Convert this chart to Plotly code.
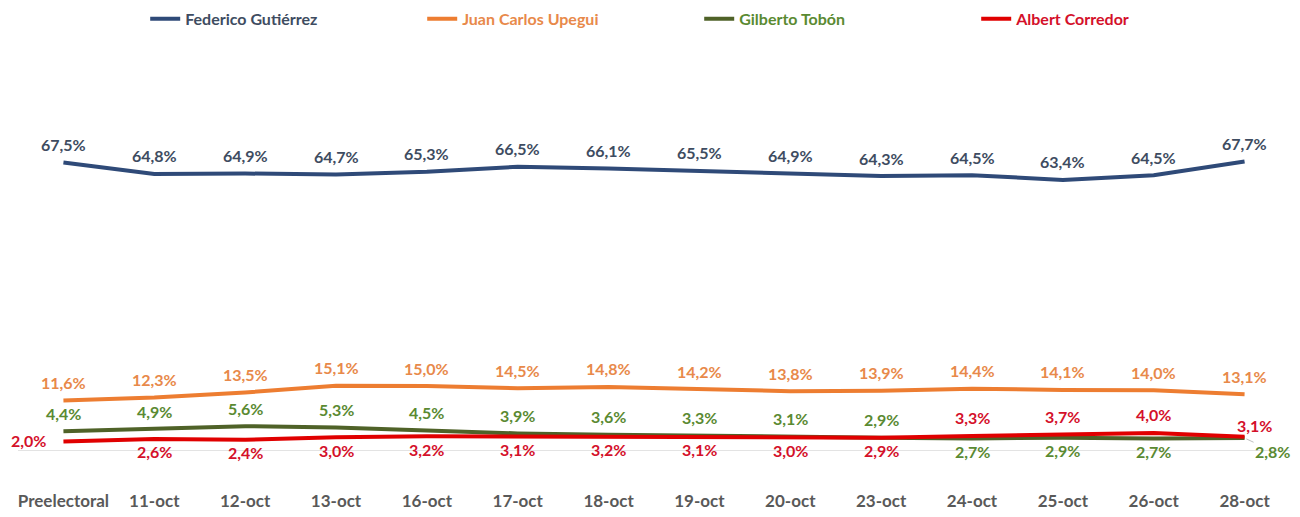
import plotly.graph_objects as go

fechas = ['Preelectoral', '11-oct', '12-oct', '13-oct', '16-oct', '17-oct', '18-oct',
          '19-oct', '20-oct', '23-oct', '24-oct', '25-oct', '26-oct', '28-oct']

federico = [67.5, 64.8, 64.9, 64.7, 65.3, 66.5, 66.1, 65.5, 64.9, 64.3, 64.5, 63.4, 64.5, 67.7]
juan = [11.6, 12.3, 13.5, 15.1, 15.0, 14.5, 14.8, 14.2, 13.8, 13.9, 14.4, 14.1, 14.0, 13.1]
gilberto = [4.4, 4.9, 5.6, 5.3, 4.5, 3.9, 3.6, 3.3, 3.1, 2.9, 2.7, 2.9, 2.7, 2.8]
albert = [2.0, 2.6, 2.4, 3.0, 3.2, 3.1, 3.2, 3.1, 3.0, 2.9, 3.3, 3.7, 4.0, 3.1]

# donde va cada etiqueta respecto a la linea
pos_federico = ['arriba'] * 14
pos_juan = ['arriba'] * 14
pos_gilberto = ['arriba'] * 10 + ['abajo'] * 3 + ['abajo_der']
pos_albert = ['izq'] + ['abajo'] * 9 + ['arriba'] * 3 + ['arriba_der']

# desplazamiento en pixeles (x, y) de cada tipo de posicion
desplazamientos = {
    'arriba': (0, 18),
    'abajo': (0, -13),
    'izq': (-35, 1),
    'abajo_der': (28, -13),
    'arriba_der': (10, 11),
}


def etiqueta(v):
    return f'{v:.1f}%'.replace('.', ',')


series = [
    ('Federico Gutiérrez', federico, '#2F4A78', '#3E4C61', pos_federico),
    ('Juan Carlos Upegui', juan, '#ED7D31', '#E8894A', pos_juan),
    ('Gilberto Tobón', gilberto, '#4F6228', '#5A8A32', pos_gilberto),
    ('Albert Corredor', albert, '#E00000', '#D4102A', pos_albert),
]

fig = go.Figure()
for nombre, valores, color_linea, color_texto, posiciones in series:
    fig.add_trace(go.Scatter(
        x=fechas, y=valores,
        mode='lines',
        name=f"<span style='color:{color_texto}'>{nombre}</span>",
        line=dict(color=color_linea, width=4),
        hoverinfo='skip',
    ))
    for fecha, v, p in zip(fechas, valores, posiciones):
        dx, dy = desplazamientos[p]
        fuente = dict(family='Lato', size=16, color=color_texto, weight='bold')
        if p == 'abajo_der':
            # etiqueta desplazada con linea guia, como en el original
            fig.add_annotation(x=fecha, y=v, text=etiqueta(v), showarrow=True,
                               ax=dx, ay=-dy, arrowhead=0, arrowwidth=1,
                               arrowcolor='#BFBFBF', standoff=2, font=fuente)
        else:
            fig.add_annotation(x=fecha, y=v, text=etiqueta(v), showarrow=False,
                               xshift=dx, yshift=dy, font=fuente)

# la pagina deja 8px de margen, por eso la figura es algo menor que la ventana
fig.update_layout(
    width=1292, height=509,
    margin=dict(l=10, r=10, t=16, b=67, autoexpand=False),
    plot_bgcolor='white', paper_bgcolor='white',
    showlegend=True,
    legend=dict(orientation='h', x=0.1, xanchor='left', y=1.012, yanchor='middle',
                entrywidth=232, entrywidthmode='pixels',
                font=dict(family='Lato', size=16, weight='bold')),
    xaxis=dict(range=[-0.5, 13.5], showgrid=False, showline=False, ticks='',
               ticklabelstandoff=39,
               tickfont=dict(family='Lato', size=17, color='#595959', weight='bold')),
    yaxis=dict(range=[0, 100], showgrid=False, showticklabels=False,
               zeroline=True, zerolinecolor='#E3E3E3', zerolinewidth=1),
)

fig.write_html('out.html')
